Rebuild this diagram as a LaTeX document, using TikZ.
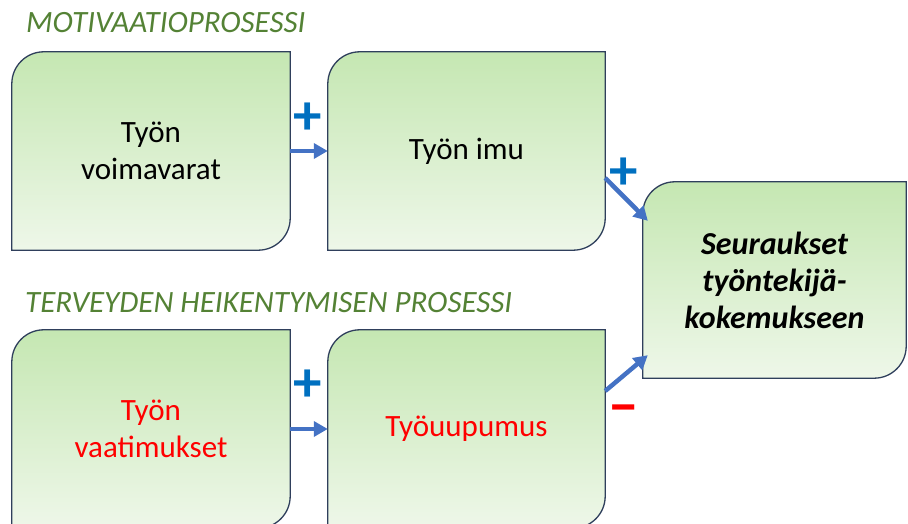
\documentclass[tikz,border=0pt]{standalone}
\usepackage{fontspec}
\setmainfont{Carlito}
\usetikzlibrary{arrows.meta,backgrounds}

\definecolor{titlegreen}{HTML}{548235}
\definecolor{boxtop}{HTML}{C5E7B2}
\definecolor{boxbottom}{HTML}{EEF7E9}
\definecolor{boxline}{HTML}{2F3F5C}
\definecolor{arrowblue}{HTML}{4472C4}
\definecolor{signblue}{HTML}{0070C0}
\definecolor{signred}{HTML}{FF0000}

\tikzset{
  stepbox/.style={rectangle, inner sep=0pt, minimum width=278pt, minimum height=198pt,
    align=center, font=\fontsize{31}{37}\selectfont},
  resultbox/.style={stepbox, minimum width=263pt, minimum height=196pt,
    font=\fontsize{32}{37}\selectfont\bfseries\itshape},
  warn/.style={text=signred},
  phase/.style={anchor=base west, inner sep=0pt, text=titlegreen,
    font=\fontsize{31}{36}\selectfont\itshape},
  link/.style={arrowblue, line width=4.5pt, -{Triangle[length=14pt,width=15pt]}},
  sign/.style={inner sep=0pt, font=\fontsize{57}{57}\selectfont\bfseries},
  boxfill/.style={top color=boxtop, bottom color=boxbottom, draw=boxline, line width=1.3pt},
}

% box outline: rounded top-left and bottom-right corners, square elsewhere
\newcommand\cornerbox[1]{%
  \path[boxfill] (#1.south west)
    -- ([yshift=-32pt]#1.north west) arc[start angle=180, end angle=90, radius=32pt]
    -- (#1.north east)
    -- ([yshift=32pt]#1.south east) arc[start angle=0, end angle=-90, radius=32pt]
    -- cycle;}

\begin{document}
\begin{tikzpicture}[x=1pt, y=1pt]
  \useasboundingbox (0,0) rectangle (908,524);

  % process titles
  \node[phase] (t1) at (26,491) {MOTIVAATIOPROSESSI};
  \node[phase] (t2) at (25,211) {TERVEYDEN HEIKENTYMISEN PROSESSI};

  % boxes
  \node[stepbox] (a) at (151,373) {Työn\\voimavarat};
  \node[stepbox, minimum width=277pt] (b) at (466.5,373) {Työn imu};
  \node[resultbox] (c) at (774.5,244) {Seuraukset\\työntekijä-\\kokemukseen};
  \node[stepbox, warn] (d) at (151,95) {Työn\\vaatimukset};
  \node[stepbox, warn, minimum width=277pt] (e) at (466.5,95) {Työuupumus};

  \begin{pgfonlayer}{background}
    \foreach \n in {a,b,c,d,e} {\cornerbox{\n}}
  \end{pgfonlayer}

  % connectors
  \draw[link] (a) -- (b);
  \draw[link] (d) -- (e);
  \draw[link] ([yshift=-27pt]b.east) -- ([xshift=5pt,yshift=-39pt]c.north west);
  \draw[link] ([yshift=38pt]e.east) -- ([xshift=5pt,yshift=23pt]c.south west);

  % signs of the effects
  \node[sign, text=signblue] (p1) at (308,405) {+};
  \node[sign, text=signblue] (p2) at (308,138) {+};
  \node[sign, text=signblue] (p3) at (624,350) {+};
  \node[sign, text=signred] (m1) at (624,109) {−};
\end{tikzpicture}
\end{document}
